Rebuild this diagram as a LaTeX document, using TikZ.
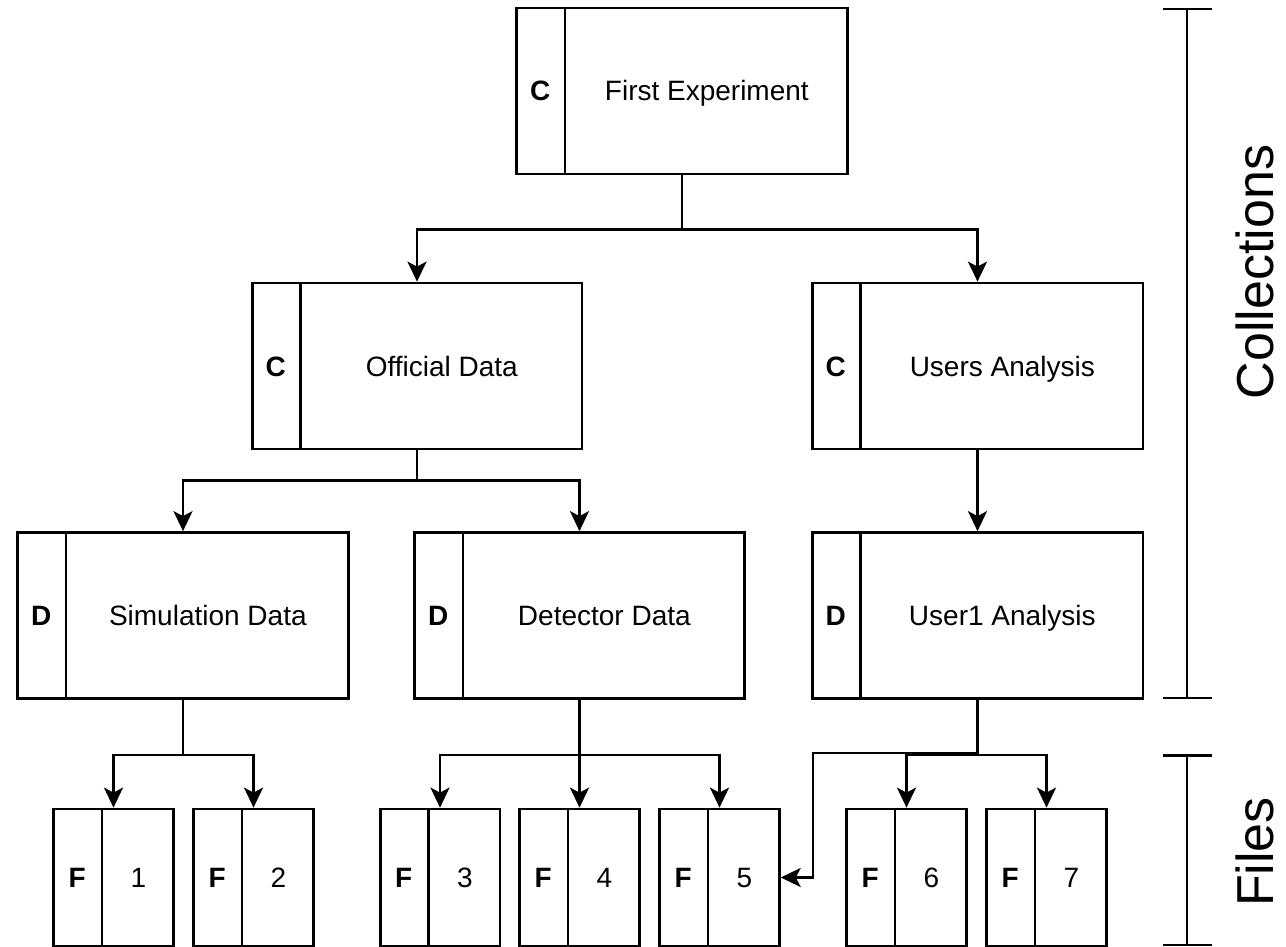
\documentclass[tikz,border=0pt]{standalone}
\usepackage{fontspec}
\setmainfont{Liberation Sans}
\usetikzlibrary{arrows.meta,shapes.multipart}

\newcommand{\boxstrut}{\rule[-6.5pt]{0pt}{33pt}}

\tikzset{
    entry/.style={draw, line width=2.7pt, rectangle split, rectangle split horizontal,
        rectangle split parts=2, inner sep=0pt, font=\fontsize{28}{32}\selectfont},
    bigbox/.style={entry, minimum height=166pt},
    filebox/.style={entry, minimum height=137pt},
    link/.style={line width=2.7pt, -{Stealth[length=20pt, width=19pt, inset=5pt]}},
    bracket/.style={line width=2.5pt, {Bar[width=49pt]}-{Bar[width=49pt]}},
    side/.style={rotate=90, anchor=base, font=\fontsize{52}{56}\selectfont}
}

\begin{document}
\begin{tikzpicture}[x=1pt, y=-1pt]
    \useasboundingbox (0,0) rectangle (1286,947);

    \node[bigbox] (exp) at (682,91) {\makebox[47pt]{\bfseries C\boxstrut}\nodepart{two}\makebox[281pt]{First Experiment\boxstrut}};
    \node[bigbox] (official) at (417,366) {\makebox[47pt]{\bfseries C\boxstrut}\nodepart{two}\makebox[280pt]{Official Data\boxstrut}};
    \node[bigbox] (users) at (977.5,366) {\makebox[47pt]{\bfseries C\boxstrut}\nodepart{two}\makebox[281pt]{Users Analysis\boxstrut}};
    \node[bigbox] (sim) at (183,615.5) {\makebox[47pt]{\bfseries D\boxstrut}\nodepart{two}\makebox[281pt]{Simulation Data\boxstrut}};
    \node[bigbox] (det) at (579.5,615.5) {\makebox[47pt]{\bfseries D\boxstrut}\nodepart{two}\makebox[280pt]{Detector Data\boxstrut}};
    \node[bigbox] (user1) at (977.5,615.5) {\makebox[47pt]{\bfseries D\boxstrut}\nodepart{two}\makebox[281pt]{User1 Analysis\boxstrut}};

    \node[filebox] (f1) at (113.5,877.5) {\makebox[47pt]{\bfseries F\boxstrut}\nodepart{two}\makebox[70pt]{1\boxstrut}};
    \node[filebox] (f2) at (253.5,877.5) {\makebox[47pt]{\bfseries F\boxstrut}\nodepart{two}\makebox[70pt]{2\boxstrut}};
    \node[filebox] (f3) at (440,877.5) {\makebox[47pt]{\bfseries F\boxstrut}\nodepart{two}\makebox[70pt]{3\boxstrut}};
    \node[filebox] (f4) at (579.5,877.5) {\makebox[47pt]{\bfseries F\boxstrut}\nodepart{two}\makebox[70pt]{4\boxstrut}};
    \node[filebox] (f5) at (719.5,877.5) {\makebox[47pt]{\bfseries F\boxstrut}\nodepart{two}\makebox[70pt]{5\boxstrut}};
    \node[filebox] (f6) at (906.5,877.5) {\makebox[47pt]{\bfseries F\boxstrut}\nodepart{two}\makebox[70pt]{6\boxstrut}};
    \node[filebox] (f7) at (1046.5,877.5) {\makebox[47pt]{\bfseries F\boxstrut}\nodepart{two}\makebox[70pt]{7\boxstrut}};

    \draw[link] (exp.south) -- ++(0,54) -| (official.north);
    \draw[link] (exp.south) -- ++(0,54) -| (users.north);
    \draw[link] (official.south) -- ++(0,30) -| (sim.north);
    \draw[link] (official.south) -- ++(0,30) -| (det.north);
    \draw[link] (users.south) -- (user1.north);

    \draw[link] (sim.south) -- ++(0,55) -| (f1.north);
    \draw[link] (sim.south) -- ++(0,55) -| (f2.north);
    \draw[link] (det.south) -- ++(0,55) -| (f3.north);
    \draw[link] (det.south) -- (f4.north);
    \draw[link] (det.south) -- ++(0,55) -| (f5.north);
    \coordinate (turn) at (813,753);
    \draw[link] (user1.south) |- (turn) |- (f5.east);
    \draw[link] (user1.south) -- ++(0,55) -| (f6.north);
    \draw[link] (user1.south) -- ++(0,55) -| (f7.north);

    \coordinate (colltop) at (1187,8);
    \coordinate (collbot) at (1187,699);
    \coordinate (filetop) at (1187,754);
    \coordinate (filebot) at (1187,946);
    \draw[bracket] (colltop) -- (collbot);
    \draw[bracket] (filetop) -- (filebot);
    \node[side] (colllabel) at (1273,272) {Collections};
    \node[side] (filelabel) at (1273,852) {Files};
\end{tikzpicture}
\end{document}
